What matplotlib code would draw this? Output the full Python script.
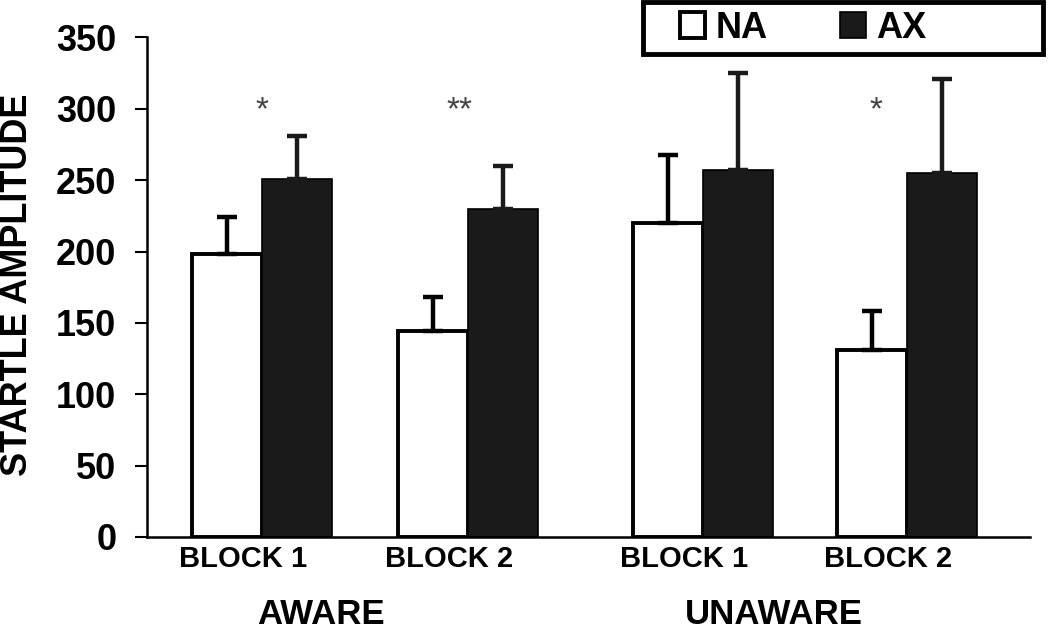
import matplotlib
matplotlib.use("Agg")
import matplotlib.pyplot as plt
from matplotlib.patches import Rectangle
import numpy as np

plt.rcParams['font.family'] = ['Liberation Sans', 'DejaVu Sans']
plt.rcParams['font.weight'] = 'bold'

# data
blocks = ['BLOCK 1', 'BLOCK 2', 'BLOCK 1', 'BLOCK 2']
groups = ['AWARE', 'UNAWARE']
na_mean = [198, 144, 220, 131]
na_err = [26, 24, 48, 27]
ax_mean = [251, 230, 257, 255]
ax_err = [30, 30, 68, 66]
stars = ['*', '**', '', '*']
yticks = [0, 50, 100, 150, 200, 250, 300, 350]

# layout
pos = np.array([0, 1, 2.14, 3.13])
w = 0.34
dark = '#1a1a1a'

fig = plt.figure(figsize=(10.5, 6.29), dpi=100)
ax = fig.add_axes([0.14, 0.1463, 0.841, 0.7941])

b1 = ax.bar(pos - w / 2, na_mean, w, color='white', edgecolor='black',
            linewidth=2.8, label='NA', zorder=2)
b2 = ax.bar(pos + w / 2, ax_mean, w, color=dark, edgecolor='black',
            linewidth=1.2, label='AX', zorder=2)

ax.errorbar(pos - w / 2, na_mean, yerr=[np.zeros(4), na_err], fmt='none',
            ecolor='black', elinewidth=3.2, capsize=7.5, capthick=3.2, zorder=3)
ax.errorbar(pos + w / 2, ax_mean, yerr=[np.zeros(4), ax_err], fmt='none',
            ecolor=dark, elinewidth=3.2, capsize=7.5, capthick=3.2, zorder=3)

# significance stars
star_x = [0.0, 0.96, 0, 2.98]
for sx, s in zip(star_x, stars):
    if s:
        ax.text(sx, 293, s, ha='center', va='baseline', fontsize=24,
                fontweight='normal', color='#444444')

ax.set_ylim(0, 350)
ax.set_xlim(-0.558, 3.728)
ax.set_yticks(yticks)
ax.set_xticks(pos - 0.09)
ax.set_xticklabels(blocks, fontsize=21, fontweight='bold')
ax.tick_params(axis='x', length=0, pad=6)
ax.tick_params(axis='y', length=9, width=1.5, pad=13, labelsize=26)
for lab in ax.get_yticklabels():
    lab.set_fontweight('bold')

for s in ['top', 'right']:
    ax.spines[s].set_visible(False)
ax.spines['left'].set_linewidth(1.8)
ax.spines['bottom'].set_linewidth(1.8)

# group labels
ax.text(0.286, -54, groups[0], ha='center', va='center', fontsize=25,
        fontweight='bold', clip_on=False)
ax.text(2.485, -54, groups[1], ha='center', va='center', fontsize=25,
        fontweight='bold', clip_on=False)

fig.text(18 / 1050, 1 - 285 / 629, 'STARTLE AMPLITUDE', rotation=90,
         ha='center', va='center', fontsize=26, fontweight='bold')

# legend box
fig.patches.append(Rectangle((643 / 1050, 1 - 54 / 629), 400 / 1050, 52 / 629,
                             transform=fig.transFigure, fill=False,
                             edgecolor='black', linewidth=3.5))
fig.legend(handles=[b1, b2], labels=['NA', 'AX'], loc='center left',
           bbox_to_anchor=(680 / 1050, 1 - 28 / 629), ncol=2, frameon=False,
           prop={'size': 26, 'weight': 'bold'}, handlelength=0.7,
           handleheight=0.7, handletextpad=0.3, columnspacing=2.0,
           borderaxespad=0, borderpad=0)

fig.savefig('out.png', dpi=100)
